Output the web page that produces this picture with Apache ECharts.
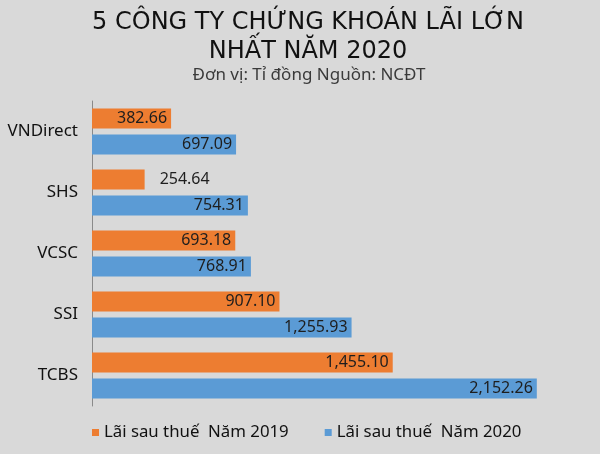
<!DOCTYPE html>
<html>
<head>
<meta charset="utf-8">
<script src="https://cdn.jsdelivr.net/npm/echarts@6/dist/echarts.min.js"></script>
<style>
html,body{margin:0;padding:0;background:#d9d9d9;}
#c{width:600px;height:454px;}
</style>
</head>
<body>
<div id="c"></div>
<script>
const categories = ['VNDirect', 'SHS', 'VCSC', 'SSI', 'TCBS'];
const profit2019 = [382.66, 254.64, 693.18, 907.10, 1455.10];
const profit2020 = [697.09, 754.31, 768.91, 1255.93, 2152.26];
const seriesNames = ['Lãi sau thuế  Năm 2019', 'Lãi sau thuế  Năm 2020'];
const titleLines = ['5 CÔNG TY CHỨNG KHOÁN LÃI LỚN', 'NHẤT NĂM 2020'];
const subtitle = 'Đơn vị: Tỉ đồng Nguồn: NCĐT';

const FONT = '"Noto Sans", sans-serif';
const TFONT = '"DejaVu Sans", sans-serif';
const fmt = v => v.toLocaleString('en-US', {minimumFractionDigits: 2, maximumFractionDigits: 2});

const labelBase = {
  show: true,
  position: 'insideRight',
  distance: 4,
  color: '#1e1e1e',
  fontSize: 16,
  fontFamily: FONT,
  formatter: p => fmt(p.value)
};

function makeData(arr) {
  return arr.map(v => {
    // values too small for the label to fit are labelled outside the bar
    if (v * 0.2067 < 60) {
      return {value: v, label: {position: 'right', distance: 15}};
    }
    return v;
  });
}

const chart = echarts.init(document.getElementById('c'));
chart.setOption({
  backgroundColor: '#d9d9d9',
  animation: false,
  graphic: [
    {type: 'text', x: 308, y: 11, style: {text: titleLines[0], font: '400 24px ' + TFONT, fill: '#111', textAlign: 'center'}},
    {type: 'text', x: 308, y: 40, style: {text: titleLines[1], font: '400 24px ' + TFONT, fill: '#111', textAlign: 'center'}},
    {type: 'text', x: 309, y: 67, style: {text: subtitle, font: '400 17px ' + FONT, fill: '#3a3a3a', textAlign: 'center'}}
  ],
  grid: {left: 92, right: 12, top: 101, bottom: 48, containLabel: false},
  xAxis: {
    type: 'value', min: 0, max: 2400, show: false,
    splitLine: {show: false}
  },
  yAxis: {
    type: 'category', data: categories, inverse: true,
    axisLine: {show: true, lineStyle: {color: '#8a8a8a', width: 1}},
    axisTick: {show: false},
    axisLabel: {color: '#111', fontSize: 17, fontFamily: FONT, margin: 14}
  },
  legend: {
    bottom: 8, left: 87,
    icon: 'rect', itemWidth: 7, itemHeight: 7, itemGap: 36,
    textStyle: {color: '#111', fontSize: 16.8, fontFamily: FONT},
    data: seriesNames
  },
  series: [
    {name: seriesNames[0], type: 'bar', data: makeData(profit2019), barWidth: 20, barGap: '30%',
     itemStyle: {color: '#ed7d31'}, label: labelBase},
    {name: seriesNames[1], type: 'bar', data: makeData(profit2020), barWidth: 20, barGap: '30%',
     itemStyle: {color: '#5b9bd5'}, label: labelBase}
  ]
});
</script>
</body>
</html>
